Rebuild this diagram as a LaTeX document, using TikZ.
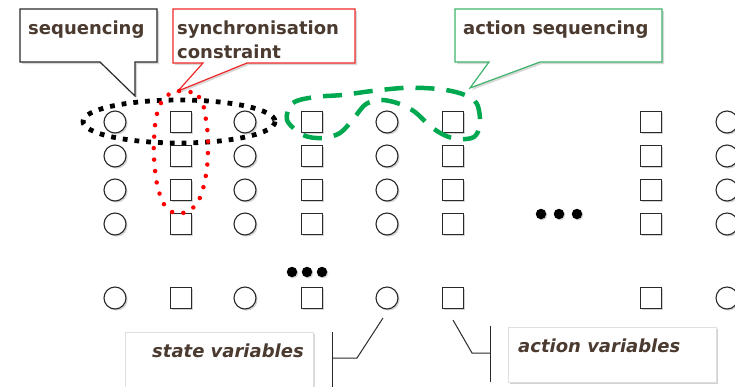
\documentclass[tikz,border=0pt]{standalone}
\usepackage{fontspec}
\setsansfont{DejaVu Sans}
\usetikzlibrary{shadows}
\definecolor{txtbrown}{HTML}{4B3A2F}
\definecolor{seqgreen}{HTML}{00A94F}
\definecolor{boxgreen}{HTML}{3DB36C}
\definecolor{boxred}{HTML}{F02828}
\definecolor{linegray}{HTML}{2A2A2A}
\tikzset{
  sv/.style={circle, draw=linegray, line width=1.1pt, fill=white, minimum size=22pt, inner sep=0pt,
    drop shadow={shadow xshift=1.6pt, shadow yshift=-1.6pt, opacity=0.35}},
  av/.style={rectangle, draw=linegray, line width=1.1pt, fill=white, minimum size=21pt, inner sep=0pt,
    drop shadow={shadow xshift=1.6pt, shadow yshift=-1.6pt, opacity=0.35}},
  lbl/.style={font=\sffamily\bfseries\fontsize{18}{24}\selectfont, text=txtbrown, inner sep=0pt, anchor=base west},
  ilbl/.style={lbl, font=\sffamily\bfseries\itshape\fontsize{18}{24}\selectfont},
  callout/.style={fill=white, line width=1.2pt, line join=miter,
    drop shadow={shadow xshift=2pt, shadow yshift=-2pt, opacity=0.3}},
  bigdot/.style={circle, fill=black, minimum size=10.5pt, inner sep=0pt,
    drop shadow={shadow xshift=1.2pt, shadow yshift=-1.2pt, opacity=0.3}},
  connector/.style={draw=linegray, line width=1pt},
}
\begin{document}
\begin{tikzpicture}[x=1pt, y=-1pt]
\useasboundingbox (0,0) rectangle (735,386);
\fill[white] (0,0) rectangle (735,386);

% ---- callouts (top)
\path[callout, draw=linegray] (20,9) -- (157,9) -- (157,62) -- (135,62) -- (135,96) -- (100,62) -- (20,62) -- cycle;
\node[lbl] (tseq) at (28,34) {sequencing};

\path[callout, draw=boxred] (173,9) -- (355,9) -- (355,63) -- (247,63) -- (178,91) -- (203,63) -- (173,63) -- cycle;
\node[lbl] (tsync1) at (177,34) {synchronisation};
\node[lbl] (tsync2) at (177,58) {constraint};

\path[callout, draw=boxgreen] (455,9) -- (662,9) -- (662,62) -- (540,62) -- (470,88) -- (489,62) -- (455,62) -- cycle;
\node[lbl] (tact) at (463,34) {action sequencing};

% ---- grid of variables
\foreach \r/\y in {1/122, 2/156, 3/190, 4/224, 5/298} {
  \foreach \c/\x in {1/115, 3/245, 5/387, 7/727} {
    \node[sv] (v-\r-\c) at (\x,\y) {};
  }
  \foreach \c/\x in {2/181, 4/312, 6/453, 8/651} {
    \node[av] (v-\r-\c) at (\x,\y) {};
  }
}

% ---- ellipsis dots
\node[bigdot] (d1) at (541,214) {};
\node[bigdot] (d2) at (559,214) {};
\node[bigdot] (d3) at (577,214) {};
\node[bigdot] (e1) at (292,272) {};
\node[bigdot] (e2) at (307,272) {};
\node[bigdot] (e3) at (322,272) {};

% ---- sequencing (black dotted ellipse)
\draw[black, line width=4.8pt, dash pattern=on 4.8pt off 7pt] (179,121.5) ellipse [x radius=96, y radius=21.5];

% ---- synchronisation constraint (red dotted)
\draw[red, line width=4.5pt, line cap=round, dash pattern=on 0pt off 11.5pt]
  plot[smooth cycle, tension=0.7] coordinates {(181,91) (199,97) (206,120) (208,150) (205,180) (197,203) (183,213) (169,210) (160,195) (155,170) (154,140) (158,110) (168,95)};

% ---- action sequencing (green dashed)
\draw[seqgreen, line width=4.5pt, dash pattern=on 19pt off 12pt]
  plot[smooth cycle, tension=0.55] coordinates {(287,120) (293,103) (315,97) (342,95) (372,91) (402,88) (424,88) (446,90) (465,95) (477,104) (480,124) (474,137) (458,139) (444,135) (430,126) (415,112) (400,104) (382,100) (366,104) (354,118) (340,133) (322,138) (303,135)};

% ---- bottom callouts
\path[fill=white, draw=gray!25, line width=0.6pt, drop shadow={shadow xshift=2pt, shadow yshift=-2pt, opacity=0.3}] (125,332) rectangle (313,392);
\node[ilbl] (tstate) at (152,357) {state variables};
\coordinate (sbar1) at (332,332);
\coordinate (sbar2) at (332,390);
\coordinate (sknee) at (357,358);
\coordinate (sjoin) at (332,358);
\coordinate (stip) at (383,318);
\draw[connector] (sbar1) -- (sbar2);
\draw[connector] (sjoin) -- (sknee) -- (stip);

\path[fill=white, draw=gray!25, line width=0.6pt, drop shadow={shadow xshift=2pt, shadow yshift=-2pt, opacity=0.35}] (508,327) rectangle (716,382);
\node[ilbl] (tactv) at (518,352) {action variables};
\coordinate (abar1) at (490,326);
\coordinate (abar2) at (490,382);
\coordinate (ajoin) at (490,353);
\coordinate (aknee) at (472,353);
\coordinate (atip) at (453,320);
\draw[connector] (abar1) -- (abar2);
\draw[connector] (ajoin) -- (aknee) -- (atip);
\end{tikzpicture}
\end{document}
